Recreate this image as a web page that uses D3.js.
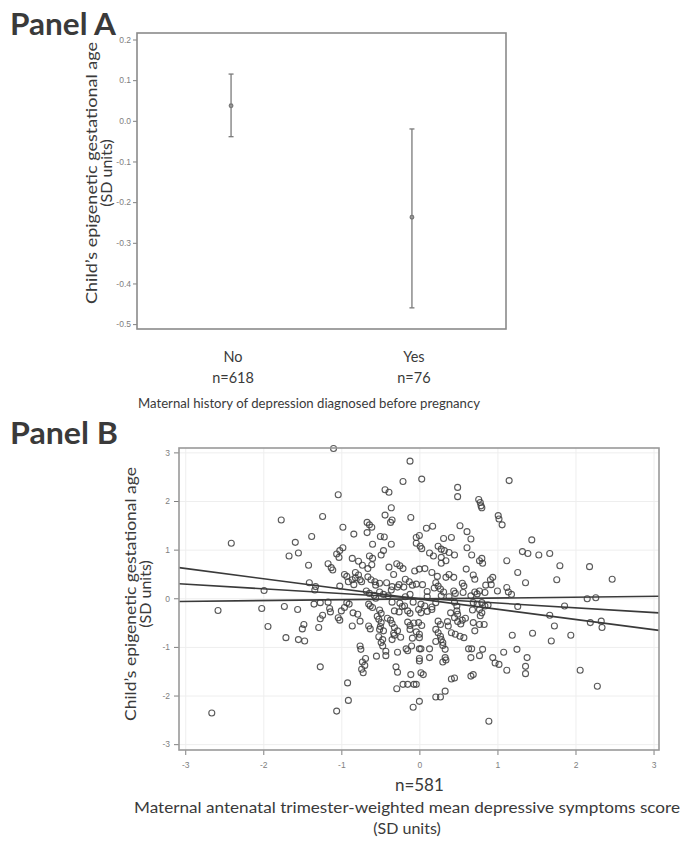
<!DOCTYPE html>
<html>
<head>
<meta charset="utf-8">
<script src="https://cdnjs.cloudflare.com/ajax/libs/d3/7.8.5/d3.min.js"></script>
<style>
body { margin: 0; background: #fff; }
svg { display: block; font-family: Lato, "Open Sans", sans-serif; }
.axis text { font-family: "Liberation Sans", Arial, sans-serif; font-size: 8.5px; fill: #808080; }
.axis line { stroke: #808080; }
.axis path { display: none; }
.grid line { stroke: #eeeeee; }
.grid path { display: none; }
.grid text { display: none; }
.lbl { fill: #3a3a3a; }
</style>
</head>
<body>
<svg id="chart" width="683" height="843"></svg>
<script>
// Panel A - mean and 95% CI by group
var groupsA = ["No", "Yes"];
var countsA = ["n=618", "n=76"];
var meansA = [0.037, -0.237];
var lowA = [-0.039, -0.46];
var highA = [0.115, -0.02];
var ticksA = [0.2, 0.1, 0.0, -0.1, -0.2, -0.3, -0.4, -0.5];

// Panel B - scatter with fitted lines
var ticksB = [-3, -2, -1, 0, 1, 2, 3];
var countB = "n=581";
var fitLines = [
    [[-3.08, 0.63], [3.07, -0.66]],
    [[-3.08, 0.30], [3.07, -0.30]],
    [[-3.08, -0.065], [3.07, 0.04]]
];
var pointsB = [
    [-1.10,3.08],[-0.12,2.82],[0.03,2.45],[-0.21,2.40],[1.15,2.42],[-0.44,2.23],[-0.39,2.18],[0.49,2.28],
    [0.49,2.09],[-1.04,2.13],[0.76,2.03],[0.78,1.97],[0.79,1.90],[0.80,1.86],[-0.36,1.86],[-1.77,1.61],
    [-1.24,1.68],[-0.44,1.71],[-0.11,1.66],[-0.35,1.61],[-0.37,1.56],[1.01,1.70],[1.02,1.63],[1.06,1.51],
    [-0.67,1.56],[-0.64,1.51],[-0.61,1.46],[-0.98,1.46],[0.52,1.49],[0.09,1.44],[0.17,1.48],[-0.67,1.35],
    [-0.84,1.32],[0.61,1.37],[-1.38,1.27],[-0.50,1.27],[-0.45,1.26],[-0.04,1.25],[0.00,1.29],[0.31,1.23],
    [0.41,1.25],[0.66,1.22],[1.44,1.20],[-2.41,1.13],[-1.59,1.15],[-0.36,1.11],[-0.60,1.11],[-0.04,1.13],
    [0.01,1.07],[0.03,1.02],[0.61,1.04],[-0.98,1.04],[-1.02,0.98],[0.24,1.07],[0.28,1.01],[0.32,0.98],
    [0.45,0.89],[-1.06,0.91],[-1.03,0.84],[-1.55,0.93],[-1.67,0.87],[-0.86,0.82],[-0.64,0.87],[-0.60,0.82],
    [-0.46,0.98],[-0.49,0.89],[0.13,0.93],[0.18,0.87],[0.28,0.84],[0.34,0.77],[0.38,0.94],[0.67,0.89],
    [0.77,0.77],[0.80,0.82],[1.32,0.96],[1.39,0.92],[1.53,0.89],[1.67,0.92],[-1.42,0.68],[-1.17,0.71],
    [-1.13,0.63],[-1.11,0.58],[-0.78,0.76],[-0.73,0.68],[-0.66,0.61],[-0.61,0.69],[-0.29,0.71],[-0.25,0.67],
    [-0.21,0.61],[1.12,0.77],[1.80,0.67],[2.18,0.65],[0.60,0.60],[-0.06,0.56],[0.00,0.60],[0.07,0.61],
    [0.16,0.53],[-0.96,0.49],[-0.93,0.45],[-0.82,0.53],[-0.78,0.48],[-0.66,0.44],[-0.33,0.49],[0.38,0.49],
    [0.34,0.43],[0.44,0.43],[0.69,0.48],[0.71,0.39],[0.91,0.38],[0.94,0.43],[1.26,0.53],[2.47,0.39],
    [1.76,0.38],[-0.91,0.34],[-0.86,0.38],[-0.74,0.34],[-0.57,0.34],[-0.56,0.27],[-0.51,0.31],[-0.42,0.32],
    [-0.18,0.39],[-0.13,0.34],[-0.09,0.27],[-0.04,0.29],[0.21,0.32],[0.24,0.25],[0.55,0.31],[0.57,0.25],
    [0.85,0.27],[1.36,0.32],[1.00,0.15],[1.12,0.22],[1.14,0.13],[1.18,0.08],[-1.41,0.32],[-1.33,0.24],
    [-1.34,0.17],[-1.02,0.25],[-1.99,0.16],[-0.68,0.15],[-0.64,0.10],[-0.51,0.13],[-0.46,0.08],[-0.36,0.17],
    [-0.28,0.23],[0.27,0.19],[0.31,0.13],[0.44,0.15],[0.46,0.10],[0.56,0.12],[0.71,0.13],[0.77,0.15],
    [0.84,0.12],[-0.58,0.06],[-0.56,0.00],[-0.40,0.05],[-0.18,0.03],[-0.12,0.08],[0.10,0.03],[0.28,0.05],
    [0.38,0.03],[0.66,0.05],[2.15,-0.01],[2.26,0.01],[-1.35,-0.12],[-1.27,-0.09],[-1.17,-0.08],[-0.93,-0.09],
    [-0.90,-0.12],[-0.65,-0.12],[-0.63,-0.16],[-0.60,-0.19],[-0.35,-0.08],[-0.25,-0.10],[-0.19,-0.16],[-0.08,-0.08],
    [0.02,-0.12],[0.07,-0.16],[0.21,-0.09],[0.16,-0.18],[0.45,-0.08],[0.48,-0.16],[0.69,-0.09],[0.74,-0.12],
    [0.80,-0.09],[0.84,-0.16],[0.88,-0.14],[1.26,-0.17],[1.86,-0.16],[-1.73,-0.17],[-1.56,-0.23],[-2.02,-0.21],
    [-2.58,-0.25],[-1.15,-0.21],[-1.14,-0.28],[-1.00,-0.26],[-0.96,-0.19],[-0.85,-0.30],[-0.79,-0.33],[-0.51,-0.24],
    [-0.49,-0.31],[-0.32,-0.26],[-0.26,-0.28],[-0.15,-0.26],[-0.12,-0.31],[-0.01,-0.23],[0.02,-0.30],[0.16,-0.23],
    [0.48,-0.26],[0.49,-0.33],[0.45,-0.40],[0.77,-0.23],[0.80,-0.30],[0.78,-0.36],[1.67,-0.35],[-1.24,-0.35],
    [-1.27,-0.42],[-1.04,-0.40],[-1.02,-0.45],[-0.76,-0.47],[-0.52,-0.43],[-0.49,-0.50],[-0.37,-0.45],[-0.35,-0.52],
    [-0.15,-0.49],[-0.12,-0.56],[-0.01,-0.50],[0.03,-0.56],[0.24,-0.47],[0.27,-0.54],[0.37,-0.57],[0.55,-0.45],
    [0.69,-0.50],[0.77,-0.54],[0.83,-0.54],[2.19,-0.50],[2.33,-0.47],[2.34,-0.60],[1.73,-0.57],[-1.94,-0.58],
    [-1.48,-0.54],[-1.50,-0.63],[-1.29,-0.60],[-0.86,-0.57],[-0.63,-0.63],[-0.65,-0.57],[-0.51,-0.64],[-0.46,-0.67],
    [-0.32,-0.60],[-0.28,-0.67],[-0.12,-0.64],[-0.04,-0.69],[0.00,-0.74],[0.21,-0.64],[0.24,-0.71],[0.41,-0.71],
    [0.46,-0.74],[0.52,-0.78],[0.57,-0.81],[0.71,-0.67],[1.19,-0.76],[1.45,-0.72],[1.94,-0.76],[-1.71,-0.81],
    [-1.55,-0.85],[-1.47,-0.88],[-0.47,-0.85],[-0.49,-0.91],[-0.32,-0.76],[-0.35,-0.85],[-0.24,-0.80],[0.00,-0.81],
    [0.27,-0.78],[0.28,-0.85],[0.30,-0.91],[1.69,-0.88],[-0.47,-0.98],[-0.43,-1.09],[-0.76,-0.98],[-0.75,-1.05],
    [0.00,-1.04],[0.02,-1.04],[0.13,-1.04],[-0.17,-1.04],[-0.10,-0.98],[0.30,-0.97],[0.33,-1.05],[0.63,-1.04],
    [0.67,-1.04],[0.81,-1.05],[1.08,-1.11],[1.25,-1.05],[-0.28,-1.11],[-1.27,-1.41],[-0.69,-1.24],[-0.73,-1.31],
    [-0.70,-1.38],[-0.74,-1.46],[-0.72,-1.53],[-0.55,-1.19],[-0.43,-1.18],[0.00,-1.24],[0.00,-1.29],[0.13,-1.22],
    [0.33,-1.22],[0.34,-1.27],[0.30,-1.31],[0.66,-1.22],[0.77,-1.18],[0.94,-1.22],[0.97,-1.33],[1.02,-1.36],
    [1.38,-1.22],[1.36,-1.40],[-0.30,-1.41],[-0.28,-1.52],[1.12,-1.48],[1.36,-1.55],[2.06,-1.48],[-0.11,-1.57],
    [0.02,-1.53],[0.05,-1.57],[0.41,-1.66],[0.45,-1.64],[0.66,-1.60],[0.69,-1.57],[-0.21,-1.77],[-0.15,-1.77],
    [-0.07,-1.77],[-0.04,-1.77],[-0.29,-1.86],[-0.92,-1.74],[2.28,-1.81],[0.33,-1.91],[0.21,-2.03],[0.27,-2.03],
    [-0.91,-2.10],[0.00,-2.12],[-0.08,-2.24],[-1.06,-2.32],[-2.66,-2.36],[0.89,-2.53],
    [-0.39,0.64],[-0.82,0.42],[-0.76,0.38],[-0.62,0.38],[0.23,0.45],[-0.84,0.28],[-0.35,0.24],[-0.26,0.28],
    [-0.20,0.23],[0.04,0.28],[0.10,0.14],[0.19,0.21],[-0.54,-0.37],[-0.50,-0.58],[-0.41,-0.41],[-0.33,-0.72],
    [-0.52,-0.79],[-0.22,-0.17],[0.10,-0.27],[-0.09,-0.82],[-0.07,-0.51],[-0.15,-1.08],[0.21,-0.89],[0.40,-0.30],
    [0.49,-0.48],[0.53,-0.53],[0.59,-0.41],[0.36,-0.48],[0.68,-0.24],[0.81,0.72],[0.92,0.28],[0.28,0.72],
    [0.74,0.09]
];

var svg = d3.select("#chart");
svg.append("rect").attr("width", 683).attr("height", 843).attr("fill", "#fff");

// ---------- Panel A ----------
var boxA = {left: 137, right: 506, top: 33, bottom: 329};

var xA = d3.scalePoint()
    .domain(groupsA)
    .range([boxA.left, boxA.right])
    .padding(0.52);

var yA = d3.scaleLinear()
    .domain([-0.512, 0.216])
    .range([boxA.bottom, boxA.top]);

svg.append("text")
    .attr("class", "lbl")
    .attr("x", 10)
    .attr("y", 35)
    .attr("font-size", 31)
    .attr("font-weight", 700)
    .attr("textLength", 106)
    .attr("lengthAdjust", "spacingAndGlyphs")
    .text("Panel A");

svg.append("g")
    .attr("class", "axis")
    .attr("transform", "translate(" + boxA.left + ",0)")
    .call(d3.axisLeft(yA)
            .tickValues(ticksA)
            .tickSize(4)
            .tickPadding(2)
            .tickFormat(function(d) { return d.toFixed(1); }));

svg.append("rect")
    .attr("x", boxA.left)
    .attr("y", boxA.top)
    .attr("width", boxA.right - boxA.left)
    .attr("height", boxA.bottom - boxA.top)
    .attr("fill", "none")
    .attr("stroke", "#8a8a8a")
    .attr("stroke-width", 1.6);

var barsA = svg.append("g")
    .selectAll("g")
    .data(groupsA)
    .enter()
    .append("g")
    .attr("stroke", "#7a7a7a")
    .attr("stroke-width", 1.3);

barsA.append("line")
    .attr("x1", function(d) { return xA(d); })
    .attr("x2", function(d) { return xA(d); })
    .attr("y1", function(d, i) { return yA(highA[i]); })
    .attr("y2", function(d, i) { return yA(lowA[i]); });

barsA.append("line")
    .attr("x1", function(d) { return xA(d) - 2.5; })
    .attr("x2", function(d) { return xA(d) + 2.5; })
    .attr("y1", function(d, i) { return yA(highA[i]); })
    .attr("y2", function(d, i) { return yA(highA[i]); });

barsA.append("line")
    .attr("x1", function(d) { return xA(d) - 2.5; })
    .attr("x2", function(d) { return xA(d) + 2.5; })
    .attr("y1", function(d, i) { return yA(lowA[i]); })
    .attr("y2", function(d, i) { return yA(lowA[i]); });

barsA.append("circle")
    .attr("cx", function(d) { return xA(d); })
    .attr("cy", function(d, i) { return yA(meansA[i]); })
    .attr("r", 1.8)
    .attr("fill", "#9a9a9a");

var catA = svg.append("g")
    .attr("class", "lbl")
    .attr("font-size", 14.5)
    .attr("text-anchor", "middle")
    .selectAll("g")
    .data(groupsA)
    .enter()
    .append("g");

catA.append("text")
    .attr("x", function(d) { return xA(d) + 2; })
    .attr("y", 362)
    .text(function(d) { return d; });

catA.append("text")
    .attr("x", function(d) { return xA(d) + 2; })
    .attr("y", 383)
    .text(function(d, i) { return countsA[i]; });

svg.append("text")
    .attr("class", "lbl")
    .attr("x", 309)
    .attr("y", 408)
    .attr("font-size", 13.5)
    .attr("text-anchor", "middle")
    .attr("textLength", 342)
    .attr("lengthAdjust", "spacingAndGlyphs")
    .text("Maternal history of depression diagnosed before pregnancy");

var ylabA = svg.append("text")
    .attr("class", "lbl")
    .attr("font-size", 16)
    .attr("text-anchor", "middle")
    .attr("transform", "translate(97,173) rotate(-90)");
ylabA.append("tspan").attr("x", 0).attr("y", 0)
    .attr("textLength", 262).attr("lengthAdjust", "spacingAndGlyphs")
    .text("Child\u2019s epigenetic gestational age");
ylabA.append("tspan").attr("x", 0).attr("y", 15).text("(SD units)");

// ---------- Panel B ----------
var boxB = {left: 179, right: 659, top: 448, bottom: 750};

var xB = d3.scaleLinear()
    .domain([-3.08, 3.07])
    .range([boxB.left, boxB.right]);

var yB = d3.scaleLinear()
    .domain([-3.12, 3.09])
    .range([boxB.bottom, boxB.top]);

svg.append("text")
    .attr("class", "lbl")
    .attr("x", 10)
    .attr("y", 444)
    .attr("font-size", 31)
    .attr("font-weight", 700)
    .attr("textLength", 108)
    .attr("lengthAdjust", "spacingAndGlyphs")
    .text("Panel B");

svg.append("g")
    .attr("class", "grid")
    .attr("transform", "translate(0," + boxB.bottom + ")")
    .call(d3.axisBottom(xB).tickValues(ticksB).tickSize(-(boxB.bottom - boxB.top)));

svg.append("g")
    .attr("class", "grid")
    .attr("transform", "translate(" + boxB.left + ",0)")
    .call(d3.axisLeft(yB).tickValues(ticksB).tickSize(-(boxB.right - boxB.left)));

svg.append("g")
    .attr("class", "axis")
    .attr("transform", "translate(" + boxB.left + ",0)")
    .call(d3.axisLeft(yB)
            .tickValues(ticksB)
            .tickSize(5)
            .tickPadding(4)
            .tickFormat(function(d) { return String(d); }));

svg.append("g")
    .attr("class", "axis")
    .attr("transform", "translate(0," + boxB.bottom + ")")
    .call(d3.axisBottom(xB)
            .tickValues(ticksB)
            .tickSize(5)
            .tickPadding(7)
            .tickFormat(function(d) { return String(d); }));

svg.append("g")
    .selectAll("circle")
    .data(pointsB)
    .enter()
    .append("circle")
    .attr("cx", function(d) { return xB(d[0]); })
    .attr("cy", function(d) { return yB(d[1]); })
    .attr("r", 3)
    .attr("fill", "none")
    .attr("stroke", "#3c3c3c")
    .attr("stroke-opacity", 0.85)
    .attr("stroke-width", 1.1);

var line = d3.line()
    .x(function(d) { return xB(d[0]); })
    .y(function(d) { return yB(d[1]); });

svg.append("g")
    .selectAll("path")
    .data(fitLines)
    .enter()
    .append("path")
    .attr("d", line)
    .attr("fill", "none")
    .attr("stroke", "#3a3a3a")
    .attr("stroke-width", 1.6);

svg.append("rect")
    .attr("x", boxB.left)
    .attr("y", boxB.top)
    .attr("width", boxB.right - boxB.left)
    .attr("height", boxB.bottom - boxB.top)
    .attr("fill", "none")
    .attr("stroke", "#999")
    .attr("stroke-width", 1.6);

svg.append("text")
    .attr("class", "lbl")
    .attr("x", xB(0))
    .attr("y", 791)
    .attr("font-size", 17)
    .attr("text-anchor", "middle")
    .text(countB);

var xlabB = svg.append("text")
    .attr("class", "lbl")
    .attr("font-size", 16)
    .attr("text-anchor", "middle");
xlabB.append("tspan").attr("x", 407).attr("y", 813)
    .attr("textLength", 546).attr("lengthAdjust", "spacingAndGlyphs")
    .text("Maternal antenatal trimester-weighted mean depressive symptoms score");
xlabB.append("tspan").attr("x", 407).attr("y", 834).text("(SD units)");

var ylabB = svg.append("text")
    .attr("class", "lbl")
    .attr("font-size", 16)
    .attr("text-anchor", "middle")
    .attr("transform", "translate(136,594) rotate(-90)");
ylabB.append("tspan").attr("x", 0).attr("y", 0)
    .attr("textLength", 254).attr("lengthAdjust", "spacingAndGlyphs")
    .text("Child\u2019s epigenetic gestational age");
ylabB.append("tspan").attr("x", 0).attr("y", 15).text("(SD units)");
</script>
</body>
</html>
